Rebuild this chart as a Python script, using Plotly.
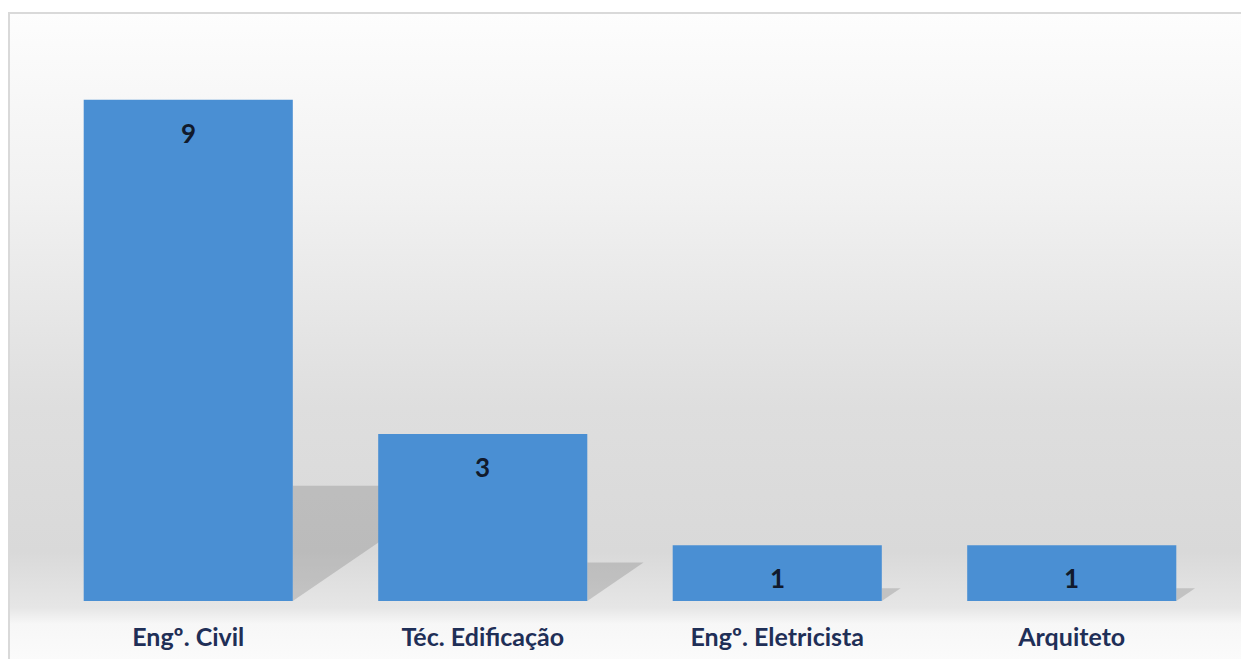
import base64
import plotly.graph_objects as go

categories = ["Engº. Civil", "Téc. Edificação", "Engº. Eletricista", "Arquiteto"]
values = [9, 3, 1, 1]

W, H = 1241, 659
ml, mr, mt, mb = 41, 22, 44, 58
pw, ph = W - ml - mr, H - mt - mb

def px_to_paper_x(px):
    return (px - ml) / pw

def px_to_paper_y(py):
    return (H - mb - py) / ph

# background gradient as an SVG image
svg = """<svg xmlns='http://www.w3.org/2000/svg' width='100' height='100' preserveAspectRatio='none'>
<defs><linearGradient id='g' x1='0' y1='0' x2='0' y2='1'>
<stop offset='0' stop-color='#fdfdfd'/>
<stop offset='0.28' stop-color='#f1f1f1'/>
<stop offset='0.60' stop-color='#dedede'/>
<stop offset='0.82' stop-color='#d9d9d9'/>
<stop offset='0.905' stop-color='#e6e6e6'/>
<stop offset='0.93' stop-color='#f7f7f7'/>
<stop offset='1' stop-color='#fcfcfc'/>
</linearGradient></defs>
<rect x='0' y='0' width='100' height='100' fill='url(#g)'/>
</svg>"""
src = "data:image/svg+xml;base64," + base64.b64encode(svg.encode()).decode()

bx0, by0, bx1, by1 = 9, 13, 1250, 670

fig = go.Figure()
fig.add_trace(go.Bar(
    x=list(range(len(categories))), y=values,
    width=0.71,
    marker=dict(color="#4a8fd3", line=dict(width=0)),
    hoverinfo="skip",
))

shapes = []
# soft floor shadows derived from bar values
for i, v in enumerate(values):
    xr = i + 0.355
    h = 0.23 * v
    dx = 0.0637 * v
    path = f"M {xr} 0 L {xr} {h} L {xr + dx} {h} Z"
    shapes.append(dict(type="path", path=path, xref="x", yref="y", layer="below",
                       fillcolor="rgba(120,120,120,0.3)", line=dict(width=0)))

# chart border
shapes.append(dict(type="rect", xref="paper", yref="paper",
                   x0=px_to_paper_x(bx0), x1=px_to_paper_x(bx1),
                   y0=px_to_paper_y(by1), y1=px_to_paper_y(by0),
                   line=dict(color="#d9d9d9", width=2), fillcolor="rgba(0,0,0,0)", layer="above"))

annotations = []
for i, v in enumerate(values):
    annotations.append(dict(x=i, y=v, xref="x", yref="y", text=f"<b>{v}</b>",
                            showarrow=False, yshift=-33,
                            font=dict(family="Lato, 'Open Sans', sans-serif", size=26, color="#111a2c")))

fig.update_layout(
    width=W, height=H,
    margin=dict(l=ml, r=mr, t=mt, b=mb, autoexpand=False),
    paper_bgcolor="white",
    plot_bgcolor="rgba(0,0,0,0)",
    showlegend=False,
    bargap=0.29,
    images=[dict(source=src, xref="paper", yref="paper",
                 x=px_to_paper_x(bx0), y=px_to_paper_y(by0),
                 sizex=px_to_paper_x(bx1) - px_to_paper_x(bx0),
                 sizey=px_to_paper_y(by0) - px_to_paper_y(by1),
                 sizing="stretch", layer="below", xanchor="left", yanchor="top")],
    shapes=shapes,
    annotations=annotations,
    xaxis=dict(
        tickmode="array", tickvals=list(range(len(categories))),
        ticktext=[f"<b>{c}</b>" for c in categories],
        range=[-0.5, len(categories) - 0.5],
        automargin=False,
        showgrid=False, zeroline=False, showline=False, ticks="",
        ticklabelstandoff=19,
        tickfont=dict(family="Lato, 'Open Sans', sans-serif", size=25, color="#1f2f57"),
    ),
    yaxis=dict(range=[0, 10], visible=False, showgrid=False, zeroline=False, automargin=False),
)

fig.write_html("out.html")
